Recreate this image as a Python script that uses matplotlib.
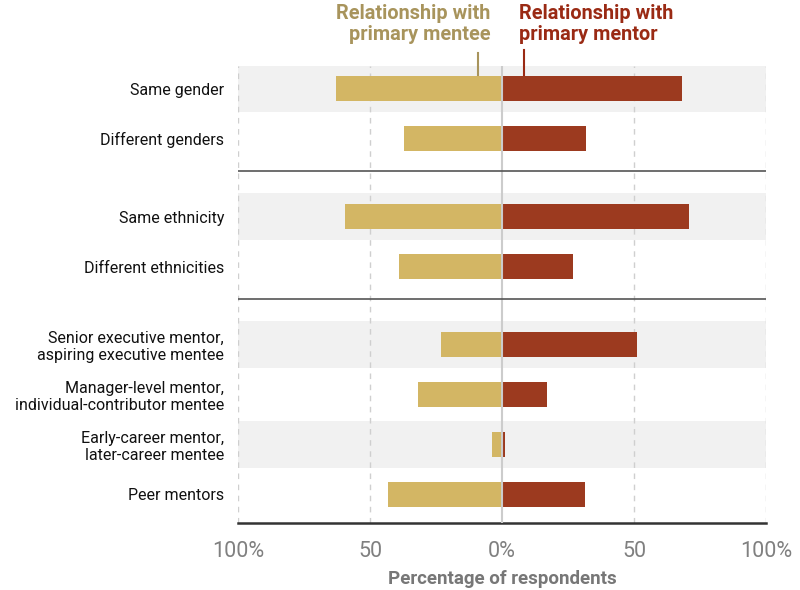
import matplotlib
matplotlib.use("Agg")
import matplotlib.pyplot as plt
import numpy as np

categories = [
    "Same gender",
    "Different genders",
    "Same ethnicity",
    "Different ethnicities",
    "Senior executive mentor,\naspiring executive mentee",
    "Manager-level mentor,\nindividual-contributor mentee",
    "Early-career mentor,\nlater-career mentee",
    "Peer mentors",
]
mentee = [63, 37, 59.5, 39, 23, 32, 3.7, 43]
mentor = [68, 32, 71, 27, 51, 17, 1.3, 31.5]
tick_values = [-100, -50, 0, 50, 100]
tick_labels = ["100%", "50", "0%", "50", "100%"]
series_names = ["Relationship with\nprimary mentee", "Relationship with\nprimary mentor"]

ypos = [0, 1, 2.56, 3.56, 5.12, 6.12, 7.12, 8.12]
separators = [1.65, 4.21]
banded = [0, 2, 4, 6]

c_mentee = "#D3B664"
c_mentor = "#9C3A1F"
c_mentee_txt = "#A8945C"
c_mentor_txt = "#9A2A14"

plt.rcParams["font.family"] = ["Roboto", "DejaVu Sans"]

fig = plt.figure(figsize=(8, 5.9), dpi=100)
ax = fig.add_axes([238/800, 1-523/590, (766-238)/800, (523-65.5)/590])

ax.set_xlim(-100, 100)
ax.set_ylim(8.69, -0.46)

for i in banded:
    ax.axhspan(ypos[i]-0.47, ypos[i]+0.47, color="#F1F1F1", zorder=0, lw=0)

for v in [-100, -50, 50, 100]:
    ax.axvline(v, color="#CFCFCF", lw=1, ls=(0, (4, 4)), zorder=1)
ax.axvline(0, color="#CCCCCC", lw=1.5, zorder=3)

ax.barh(ypos, [-m for m in mentee], height=0.5, color=c_mentee, zorder=2)
ax.barh(ypos, mentor, height=0.5, color=c_mentor, zorder=2)

for s in separators:
    ax.axhline(s, color="#555555", lw=1.2, zorder=4)

for sp in ["top", "left", "right"]:
    ax.spines[sp].set_visible(False)
ax.spines["bottom"].set_color("#333333")
ax.spines["bottom"].set_linewidth(1.8)

ax.set_yticks(ypos)
ax.set_yticklabels(categories, fontsize=11.5, color="#111111", linespacing=1.15)
ax.tick_params(axis="y", length=0, pad=10)
for lab in ax.get_yticklabels():
    lab.set_horizontalalignment("right")
    lab.set_multialignment("right")

ax.set_xticks(tick_values)
ax.set_xticklabels(tick_labels, fontsize=15.5, color="#808080")
ax.tick_params(axis="x", length=0, pad=13)
ax.set_xlabel("Percentage of respondents", fontsize=13.5, color="#777777",
              fontweight="bold", labelpad=6)

# Series headers
fig.text(490/800, 1-4/590, series_names[0], ha="right", va="top", fontsize=14.3,
         fontweight="bold", color=c_mentee_txt, multialignment="right", linespacing=1.15)
fig.text(519/800, 1-4/590, series_names[1], ha="left", va="top", fontsize=14.3,
         fontweight="bold", color=c_mentor_txt, multialignment="left", linespacing=1.15)

# leader lines
fig.add_artist(plt.Line2D([478/800, 478/800], [1-53/590, 1-75/590], color=c_mentee_txt, lw=1.5))
fig.add_artist(plt.Line2D([524/800, 524/800], [1-50/590, 1-75/590], color=c_mentor_txt, lw=1.5))

fig.savefig("out.png", dpi=100)
